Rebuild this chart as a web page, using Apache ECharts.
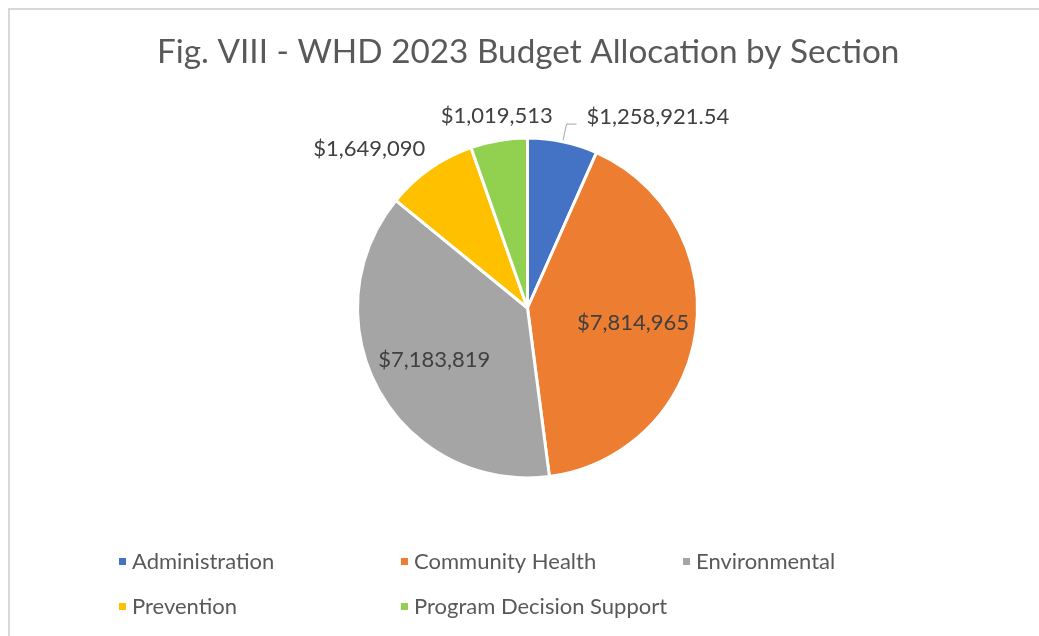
<!DOCTYPE html>
<html>
<head>
<meta charset="utf-8">
<title>WHD 2023 Budget Allocation by Section</title>
<script src="https://cdn.jsdelivr.net/npm/echarts@6/dist/echarts.min.js"></script>
<style>
  html, body { margin: 0; padding: 0; background: #ffffff; overflow: hidden; }
  #frame {
    position: absolute; left: 8px; top: 8px; width: 1100px; height: 700px;
    border: 2px solid #d9d9d9; box-sizing: border-box;
  }
  #chart { position: absolute; left: 0; top: 0; width: 1039px; height: 636px; }
</style>
</head>
<body>
<div id="frame"></div>
<div id="chart"></div>
<script>
// Section budget figures for 2023
const sections = ['Administration', 'Community Health', 'Environmental', 'Prevention', 'Program Decision Support'];
const budgets = [1258921.54, 7814965, 7183819, 1649090, 1019513];
const valueLabels = ['$1,258,921.54', '$7,814,965', '$7,183,819', '$1,649,090', '$1,019,513'];
const sliceColors = ['#4472c4', '#ed7d31', '#a5a5a5', '#ffc000', '#92d050'];

// which slices carry their value inside the slice
const insideLabel = [false, true, true, false, false];

const FONT = 'Lato, "Open Sans", sans-serif';
const CENTER = [527.5, 308];
const RADIUS = 170;

const chart = echarts.init(document.getElementById('chart'), null, { renderer: 'canvas' });

// outer labels: per-slice leader settings
const outerLabelCfg = [
  { line: true,  length: 18, length2: 10, distance: 10, lineHeight: 14 },
  null,
  null,
  { line: false, length: 8,  length2: 0,  distance: 0,  lineHeight: 26 },
  { line: false, length: 12, length2: 0,  distance: 0,  lineHeight: 26 }
];

const mainData = sections.map((name, i) => {
  const item = { name, value: budgets[i], itemStyle: { color: sliceColors[i] } };
  const cfg = outerLabelCfg[i];
  if (cfg) {
    item.label = {
      show: true, position: 'outside',
      formatter: valueLabels[i],
      distanceToLabelLine: cfg.distance,
      lineHeight: cfg.lineHeight
    };
    item.labelLine = {
      show: cfg.line, length: cfg.length, length2: cfg.length2,
      lineStyle: { color: '#a6a6a6', width: 1 }
    };
  } else {
    item.label = { show: false };
    item.labelLine = { show: false };
  }
  return item;
});

// transparent overlay that places the in-slice labels further out than mid-radius
const overlayData = sections.map((name, i) => ({
  name, value: budgets[i],
  itemStyle: { color: 'rgba(0,0,0,0)', borderWidth: 0 },
  label: { show: insideLabel[i], formatter: valueLabels[i] }
}));

chart.setOption({
  backgroundColor: 'transparent',
  animation: false,
  title: {
    text: 'Fig. VIII - WHD 2023 Budget Allocation by Section',
    left: 152, top: 31,
    textStyle: { fontFamily: FONT, fontSize: 33.3, fontWeight: 'normal', color: '#595959' }
  },
  legend: {
    data: sections,
    left: 117, top: 549, width: 880,
    orient: 'horizontal',
    icon: 'rect', itemWidth: 9, itemHeight: 9, itemGap: 20,
    padding: 0,
    textStyle: { fontFamily: FONT, fontSize: 22, color: '#595959', width: 247, lineHeight: 25, overflow: 'none' }
  },
  series: [
    {
      name: 'Budget',
      type: 'pie',
      center: CENTER,
      radius: [0, RADIUS],
      startAngle: 90,
      clockwise: true,
      avoidLabelOverlap: false,
      itemStyle: { borderColor: '#ffffff', borderWidth: 3 },
      label: { fontFamily: FONT, fontSize: 22, color: '#404040' },
      emphasis: { disabled: true },
      labelLayout: function (p) {
        if (p.dataIndex === 4) return { align: 'center', verticalAlign: 'bottom' };
        if (p.dataIndex === 3 || p.dataIndex === 0) return { verticalAlign: 'bottom' };
        return {};
      },
      data: mainData
    },
    {
      name: 'Budget labels',
      type: 'pie',
      center: CENTER,
      radius: [0, RADIUS * 1.22],
      startAngle: 90,
      clockwise: true,
      silent: true,
      z: 3,
      label: { position: 'inside', fontFamily: FONT, fontSize: 22, color: '#404040' },
      labelLine: { show: false },
      emphasis: { disabled: true },
      data: overlayData
    }
  ]
});
</script>
</body>
</html>
